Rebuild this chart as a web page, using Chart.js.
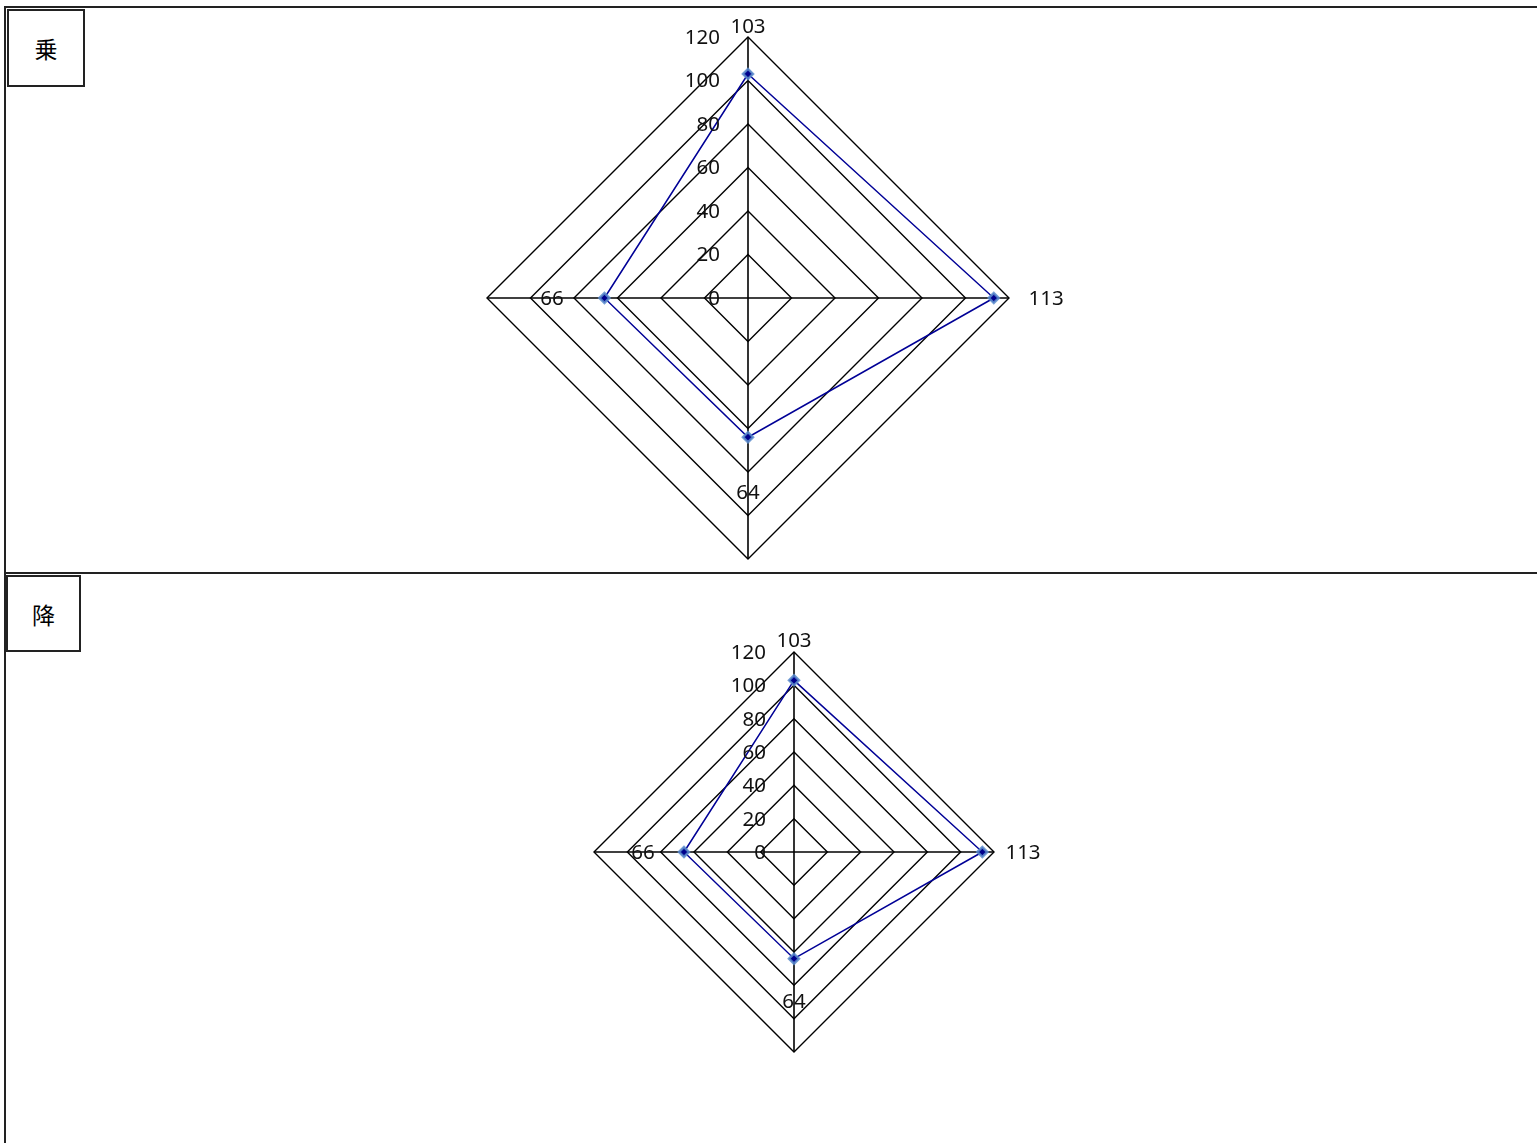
<!DOCTYPE html>
<html lang="ja">
<head>
<meta charset="utf-8">
<title>乗 / 降</title>
<script src="https://cdn.jsdelivr.net/npm/chart.js@4/dist/chart.umd.min.js"></script>
<style>
  html, body { margin: 0; padding: 0; background: #fff; overflow: hidden; }
  body { width: 1537px; height: 1143px; position: relative; }
  .frame {
    position: absolute; left: 4px; top: 6px; width: 1600px; height: 1200px;
    border-left: 2px solid #222; border-top: 2px solid #222;
  }
  .divider { position: absolute; left: 5px; top: 572px; width: 1600px; height: 0; border-top: 2px solid #222; }
  .tag {
    position: absolute; box-sizing: border-box; border: 2px solid #222; background: #fff;
    display: flex; align-items: center; justify-content: center;
    font-family: "Noto Sans CJK JP", sans-serif; font-size: 23px; color: #000;
  }
  #tagUp   { left: 7px; top: 9px;   width: 78px; height: 78px; }
  #tagDown { left: 6px; top: 575px; width: 75px; height: 77px; }
  canvas { position: absolute; left: 0; }
  #chartUp   { top: 0; }
  #chartDown { top: 574px; }
</style>
</head>
<body>
<div class="frame"></div>
<div class="divider"></div>
<div class="tag" id="tagUp">乗</div>
<div class="tag" id="tagDown">降</div>
<canvas id="chartUp" width="1537" height="574"></canvas>
<canvas id="chartDown" width="1537" height="569"></canvas>

<script>
// ── Data ─────────────────────────────────────────────
const categories   = ["103", "113", "64", "66"];
const boardValues  = [103, 113, 64, 66];   // 乗
const alightValues = [103, 113, 64, 66];   // 降
const tickValues   = [0, 20, 40, 60, 80, 100, 120];

// Excel puts the tick numbers left of the vertical axis and the
// category labels at odd distances, so draw them ourselves.
const excelLabels = {
  id: "excelLabels",
  afterDatasetsDraw(chart, args, opts) {
    const scale = chart.scales.r;
    const ctx = chart.ctx;
    ctx.save();
    ctx.font = "20.5px 'Noto Sans', 'Open Sans', sans-serif";
    ctx.fillStyle = "#111";
    ctx.textBaseline = "middle";

    ctx.textAlign = "right";
    scale.ticks.forEach(t => {
      const d = scale.getDistanceFromCenterForValue(t.value);
      ctx.fillText(t.label, scale.xCenter - opts.tickGap, scale.yCenter - d + 1);
    });

    ctx.textAlign = "center";
    chart.data.labels.forEach((lbl, i) => {
      const p = scale.getPointPosition(i, scale.drawingArea * opts.reach[i]);
      ctx.fillText(lbl, p.x, p.y + 1);
    });
    ctx.restore();
  }
};

function makeRadar(id, values, padding, reach) {
  const ctx = document.getElementById(id).getContext("2d");
  return new Chart(ctx, {
    type: "radar",
    data: {
      labels: categories,
      datasets: [{
        data: values,
        borderColor: "#000096",
        borderWidth: 1.5,
        fill: false,
        tension: 0,
        pointStyle: "rectRot",
        pointRadius: 5,
        pointBackgroundColor: "#00008c",
        pointBorderColor: "rgba(90,140,205,0.85)",
        pointBorderWidth: 2.5,
      }],
    },
    plugins: [excelLabels],
    options: {
      responsive: false,
      animation: false,
      layout: { padding },
      plugins: {
        legend: { display: false },
        tooltip: { enabled: false },
        excelLabels: { tickGap: 28, reach },
      },
      scales: {
        r: {
          min: tickValues[0],
          max: tickValues[tickValues.length - 1],
          ticks: { stepSize: tickValues[1] - tickValues[0], display: false },
          pointLabels: { display: false },
          grid: { color: "#000", lineWidth: 1.4 },
          angleLines: { color: "#000", lineWidth: 1.6 },
        },
      },
    },
  });
}

// ── Charts ───────────────────────────────────────────
makeRadar("chartUp", boardValues,
  { left: 487, right: 528, top: 37, bottom: 15 },
  [1.04, 1.142, 0.743, 0.751]);

makeRadar("chartDown", alightValues,
  { left: 594, right: 543, top: 78, bottom: 91 },
  [1.057, 1.145, 0.745, 0.755]);
</script>
</body>
</html>
